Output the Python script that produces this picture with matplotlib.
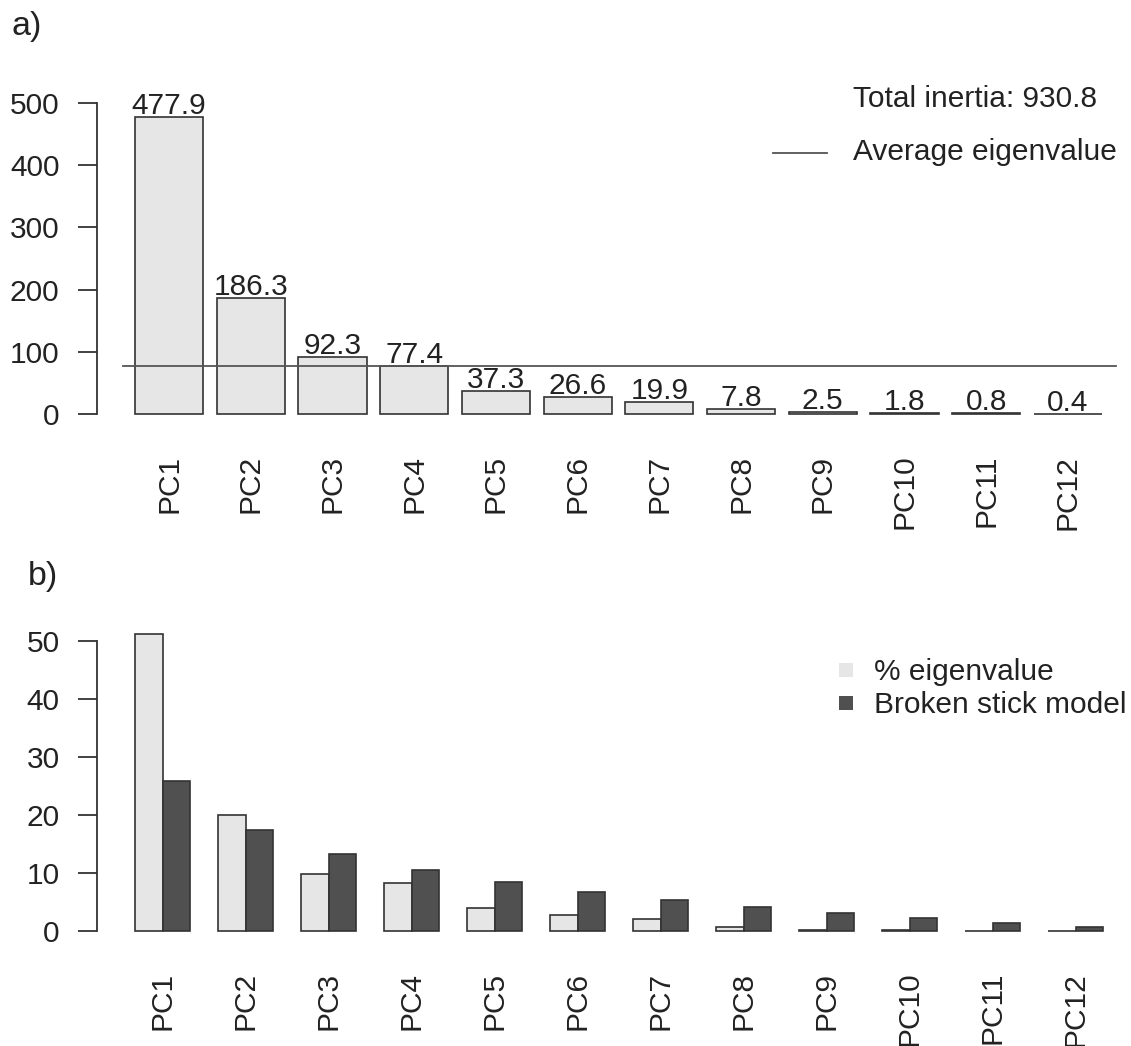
import matplotlib
matplotlib.use("Agg")
import matplotlib.pyplot as plt
import numpy as np

plt.rcParams['font.family'] = ['Liberation Sans', 'DejaVu Sans']

# ---- data ----
components = ["PC1", "PC2", "PC3", "PC4", "PC5", "PC6", "PC7", "PC8", "PC9", "PC10", "PC11", "PC12"]
eigenvalues = [477.9, 186.3, 92.3, 77.4, 37.3, 26.6, 19.9, 7.8, 2.5, 1.8, 0.8, 0.4]
pct_eigenvalue = [51.3, 20.0, 9.9, 8.3, 4.0, 2.9, 2.1, 0.8, 0.3, 0.2, 0.1, 0.04]
broken_stick = [25.9, 17.5, 13.4, 10.6, 8.5, 6.8, 5.4, 4.3, 3.2, 2.3, 1.5, 0.7]
total_inertia = "930.8"
top_yticks = [0, 100, 200, 300, 400, 500]
bot_yticks = [0, 10, 20, 30, 40, 50]

W, H = 1131, 1046
fig = plt.figure(figsize=(W / 100, H / 100), dpi=100)
TXT = "#222222"
EDGE = "#333333"
LIGHT = "#e6e6e6"
DARK = "#505050"
FS = 21.5

def px_axes(left, top, right, bottom):
    return fig.add_axes([left / W, 1 - bottom / H, (right - left) / W, (bottom - top) / H])

def style(ax, yt, xpad):
    for s in ["top", "right", "bottom"]:
        ax.spines[s].set_visible(False)
    ax.spines["left"].set_bounds(yt[0], yt[-1])
    ax.spines["left"].set_color(EDGE)
    ax.spines["left"].set_linewidth(1.3)
    ax.set_yticks(yt)
    ax.set_yticklabels([str(v) for v in yt])
    ax.tick_params(axis="y", length=14, width=1.3, color=EDGE, pad=13,
                   labelsize=FS, labelcolor=TXT)
    ax.tick_params(axis="x", length=0, pad=xpad, labelsize=FS, labelcolor=TXT,
                   labelrotation=90)
    ax.patch.set_alpha(0)

# ---- panel a ----
n = len(components)
ax1 = px_axes(97, 85, 1131, 425)
xa = 0.7 + 1.2 * np.arange(n)
ax1.bar(xa, eigenvalues, width=1.0, color=LIGHT, edgecolor=EDGE, linewidth=1.2)
ax1.set_xlim(-0.358, 14.826)
ax1.set_ylim(-17.7, 528.9)
style(ax1, top_yticks, 21.5)
ax1.set_xticks(xa)
ax1.set_xticklabels(components, va="top", ha="center")
for x, v in zip(xa, eigenvalues):
    ax1.annotate(f"{v:.1f}", (x, v), xytext=(0, 3), textcoords="offset pixels",
                 ha="center", va="baseline", fontsize=FS, color=TXT)
avg = float(np.mean(eigenvalues))
ax1.plot([0.02, 14.6], [avg, avg], color="#555555", lw=1.3)

fig.text(853 / W, 1 - 107 / H, f"Total inertia: {total_inertia}", fontsize=FS,
         color=TXT, ha="left", va="baseline")
fig.lines.append(plt.Line2D([773 / W, 827 / W], [1 - 153 / H, 1 - 153 / H],
                            transform=fig.transFigure, color="#555555", lw=1.3))
fig.text(853 / W, 1 - 160 / H, "Average eigenvalue", fontsize=FS,
         color=TXT, ha="left", va="baseline")
fig.text(11 / W, 1 - 35 / H, "a)", fontsize=24.5, color=TXT, ha="left", va="baseline")

# ---- panel b ----
ax2 = px_axes(97, 620, 1131, 942)
xl = 1 + 3 * np.arange(n)
ax2.bar(xl + 0.5, pct_eigenvalue, width=1.0, color=LIGHT, edgecolor=EDGE, linewidth=1.2)
ax2.bar(xl + 1.5, broken_stick, width=1.0, color=DARK, edgecolor=EDGE, linewidth=1.2)
ax2.set_xlim(-0.373, 37.0)
ax2.set_ylim(-1.81, 53.67)
style(ax2, bot_yticks, 21.5)
ax2.set_xticks(xl + 1.0)
ax2.set_xticklabels(components, va="top", ha="center")

for (yc, col, lab) in [(670, LIGHT, "% eigenvalue"), (703, DARK, "Broken stick model")]:
    fig.patches.append(plt.Rectangle((839 / W, 1 - (yc + 7) / H), 14 / W, 14 / H,
                                     transform=fig.transFigure, facecolor=col,
                                     edgecolor="none"))
    fig.text(874 / W, 1 - (yc + 10) / H, lab, fontsize=FS, color=TXT,
             ha="left", va="baseline")
fig.text(28 / W, 1 - 585 / H, "b)", fontsize=24.5, color=TXT, ha="left", va="baseline")

fig.savefig("out.png", dpi=100)
